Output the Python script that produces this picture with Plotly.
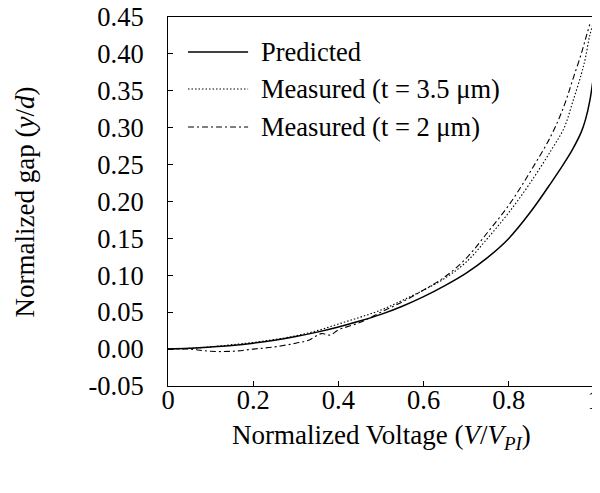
import plotly.graph_objects as go

# Predicted
x_pred = [0, 0.05, 0.1, 0.15, 0.2, 0.25, 0.3, 0.35, 0.4, 0.45, 0.5, 0.55, 0.6, 0.65,
          0.7, 0.75, 0.8, 0.85, 0.9, 0.93, 0.95, 0.97, 0.98, 0.99, 1.0]
y_pred = [0, 0.001, 0.003, 0.005, 0.008, 0.012, 0.017, 0.023, 0.030, 0.038, 0.047, 0.058,
          0.071, 0.086, 0.103, 0.124, 0.150, 0.185, 0.226, 0.252, 0.271, 0.294, 0.311,
          0.336, 0.375]

# Measured t = 3.5 um
x_m35 = [0, 0.05, 0.1, 0.15, 0.2, 0.25, 0.3, 0.35, 0.4, 0.45, 0.5, 0.55, 0.6, 0.65,
         0.7, 0.75, 0.8, 0.85, 0.9, 0.93, 0.95, 0.97, 0.98, 0.99, 1.0]
y_m35 = [0, 0.001, 0.003, 0.006, 0.009, 0.013, 0.018, 0.025, 0.034, 0.043, 0.053, 0.066,
         0.080, 0.096, 0.118, 0.150, 0.185, 0.225, 0.270, 0.300, 0.335, 0.372, 0.395,
         0.425, 0.445]

# Measured t = 2 um
x_m2 = [0, 0.05, 0.1, 0.15, 0.2, 0.25, 0.3, 0.33, 0.36, 0.38, 0.4, 0.45, 0.5, 0.55,
        0.6, 0.65, 0.7, 0.75, 0.8, 0.85, 0.9, 0.93, 0.95, 0.97, 0.98, 0.99]
y_m2 = [0, 0.0, -0.003, -0.003, 0.0, 0.003, 0.008, 0.012, 0.021, 0.019, 0.026, 0.036,
        0.050, 0.064, 0.080, 0.098, 0.123, 0.158, 0.195, 0.240, 0.290, 0.330, 0.365,
        0.400, 0.420, 0.440]

legend_names = ["Predicted", "Measured (t = 3.5 \u03bcm)", "Measured (t = 2 \u03bcm)"]
y_ticks = [-0.05, 0, 0.05, 0.1, 0.15, 0.2, 0.25, 0.3, 0.35, 0.4, 0.45]
y_ticktext = ["-0.05", "0.00", "0.05", "0.10", "0.15", "0.20", "0.25", "0.30", "0.35", "0.40", "0.45"]
x_ticks = [0, 0.2, 0.4, 0.6, 0.8, 1]
x_ticktext = ["0", "0.2", "0.4", "0.6", "0.8", "1"]

FONT = "Liberation Serif"
TICK_SIZE = 26.5
TITLE_SIZE = 27

fig = go.Figure()
styles = [("solid", 1.5), ("1.5px,2px", 1.1), ("6px,3px,2px,3px", 1.1)]
xaxes_for = ["x", "x", "x2"]
for (xs, ys), name, (dash, w), xa in zip([(x_pred, y_pred), (x_m35, y_m35), (x_m2, y_m2)],
                                         legend_names, styles, xaxes_for):
    fig.add_trace(go.Scatter(x=xs, y=ys, mode="lines", name=name, line_shape="spline",
                             xaxis=xa, yaxis="y",
                             line=dict(color="black", width=w, dash=dash), showlegend=False))

# manual legend
leg_y = [0.905, 0.805, 0.702]
for ly, name, (dash, w) in zip(leg_y, legend_names, styles):
    fig.add_shape(type="line", xref="paper", yref="paper", x0=0.047, x1=0.188, y0=ly, y1=ly,
                  line=dict(color="black", width=w, dash=dash))
    fig.add_annotation(xref="paper", yref="paper", x=0.213, y=ly, text=name, showarrow=False,
                       xanchor="left", yanchor="middle",
                       font=dict(family=FONT, size=TICK_SIZE, color="black"))

# axis titles
fig.add_annotation(xref="paper", yref="paper", x=0.5, y=-0.138,
                   text="Normalized Voltage (<i>V</i>/<i>V</i><sub><i>PI</i></sub>)",
                   showarrow=False, xanchor="center", yanchor="middle",
                   font=dict(family=FONT, size=TITLE_SIZE, color="black"))
fig.add_annotation(xref="paper", yref="paper", x=-0.3357, y=0.5,
                   text="Normalized gap (<i>y</i>/<i>d</i>)", textangle=-90,
                   showarrow=False, xanchor="center", yanchor="middle",
                   font=dict(family=FONT, size=TITLE_SIZE, color="black"))

axis_common = dict(showgrid=False, zeroline=False, showline=True, linecolor="black", linewidth=1,
                   mirror=True, ticks="inside", tickcolor="black", tickwidth=1, ticklen=5,
                   ticklabeloverflow="allow",
                   tickfont=dict(family=FONT, size=TICK_SIZE, color="black"))
fig.update_layout(
    xaxis=dict(range=[0, 1], tickvals=x_ticks, ticktext=x_ticktext, showticklabels=False,
               **axis_common),
    yaxis=dict(range=[-0.05, 0.45], tickvals=y_ticks, ticktext=y_ticktext, ticklabelstandoff=18,
               **axis_common),
    # overlaid x axis carrying the tick labels, so they sit closer to the frame
    xaxis2=dict(overlaying="x", anchor="free", position=0.011,
                range=[0, 1], tickvals=x_ticks, ticktext=x_ticktext,
                showline=False, showgrid=False, zeroline=False, ticks="",
                ticklabeloverflow="allow",
                tickfont=dict(family=FONT, size=TICK_SIZE, color="black")),
    width=592, height=485, paper_bgcolor="white", plot_bgcolor="white",
    margin=dict(l=160, r=6, t=9, b=107, autoexpand=False),
    font=dict(family=FONT, size=TICK_SIZE, color="black"))
fig.write_html("out.html")
